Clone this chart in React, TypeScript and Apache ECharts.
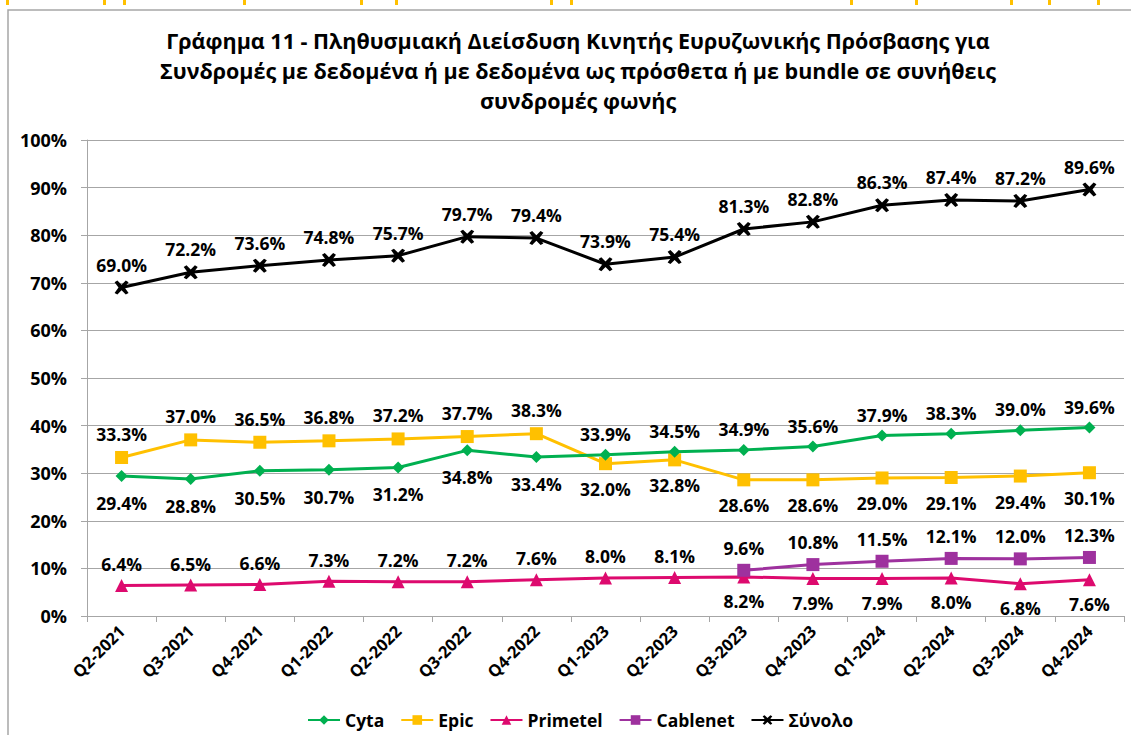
import React, { useEffect, useRef } from "react";
import * as echarts from "echarts";

const categories = [
  "Q2-2021", "Q3-2021", "Q4-2021", "Q1-2022", "Q2-2022", "Q3-2022", "Q4-2022",
  "Q1-2023", "Q2-2023", "Q3-2023", "Q4-2023", "Q1-2024", "Q2-2024", "Q3-2024", "Q4-2024",
];
const cyta = [29.4, 28.8, 30.5, 30.7, 31.2, 34.8, 33.4, 33.9, 34.5, 34.9, 35.6, 37.9, 38.3, 39.0, 39.6];
const epic = [33.3, 37.0, 36.5, 36.8, 37.2, 37.7, 38.3, 32.0, 32.8, 28.6, 28.6, 29.0, 29.1, 29.4, 30.1];
const primetel = [6.4, 6.5, 6.6, 7.3, 7.2, 7.2, 7.6, 8.0, 8.1, 8.2, 7.9, 7.9, 8.0, 6.8, 7.6];
const cablenet: (number | null)[] = [null, null, null, null, null, null, null, null, null, 9.6, 10.8, 11.5, 12.1, 12.0, 12.3];
const total = [69.0, 72.2, 73.6, 74.8, 75.7, 79.7, 79.4, 73.9, 75.4, 81.3, 82.8, 86.3, 87.4, 87.2, 89.6];
const yTicks = [0, 10, 20, 30, 40, 50, 60, 70, 80, 90, 100];

const titleText =
  "Γράφημα 11 - Πληθυσμιακή Διείσδυση Κινητής Ευρυζωνικής Πρόσβασης για\nΣυνδρομές με δεδομένα ή με δεδομένα ως πρόσθετα ή με bundle σε συνήθεις\nσυνδρομές φωνής";

const FONT = "'Open Sans', 'Noto Sans', sans-serif";
const xMarkPath =
  "path://M0,1.2 L2,0 L5,3 L8,0 L10,1.2 L7.2,5 L10,8.8 L8,10 L5,7 L2,10 L0,8.8 L2.8,5 Z";

const yellowMarks = [6, 103, 123, 243, 360, 395, 550, 570, 850, 915, 1010, 1048, 1097];

export default function App() {
  const ref = useRef<HTMLDivElement>(null);
  useEffect(() => {
    if (!ref.current) return;
    const chart = echarts.init(ref.current, undefined, { renderer: "svg" });
    const lbl = {
      show: true,
      fontFamily: FONT,
      fontWeight: "bold" as const,
      fontSize: 17.5,
      color: "#000",
      formatter: (p: any) => (p.value == null ? "" : Number(p.value).toFixed(1) + "%"),
    };
    const withPos = (arr: (number | null)[], below: (i: number) => boolean, dUp: number, dDown: number) =>
      arr.map((v, i) =>
        v == null
          ? null
          : {
              value: v,
              label: below(i)
                ? { position: "bottom", distance: dDown }
                : { position: "top", distance: dUp },
            }
      );
    chart.setOption({
      animation: false,
      backgroundColor: "#fff",
      title: {
        text: titleText,
        left: 578,
        top: 25,
        padding: 0,
        textAlign: "center",
        textStyle: {
          fontFamily: FONT,
          fontWeight: "bold",
          fontSize: 21.5,
          lineHeight: 30,
          color: "#000",
        },
      },
      graphic: [
        {
          type: "rect",
          shape: { x: 8, y: 10, width: 1140, height: 740 },
          style: { fill: "none", stroke: "#A6A6A6", lineWidth: 1.5 },
          silent: true,
          z: -1,
        },
        ...yellowMarks.map((x) => ({
          type: "rect",
          shape: { x, y: 0, width: 3, height: 5 },
          style: { fill: "#FFC000" },
          silent: true,
        })),
      ],
      legend: {
        left: 302,
        top: 706,
        itemGap: 16,
        itemWidth: 32,
        itemHeight: 12,
        textStyle: { fontFamily: FONT, fontWeight: "bold", fontSize: 17.5, color: "#000" },
        data: ["Cyta", "Epic", "Primetel", "Cablenet", "Σύνολο"],
      },
      grid: { left: 87, right: 7, top: 140, bottom: 119, containLabel: false },
      xAxis: {
        type: "category",
        data: categories,
        boundaryGap: true,
        axisLine: { lineStyle: { color: "#A6A6A6", width: 1 } },
        axisTick: { show: true, length: 6, lineStyle: { color: "#A6A6A6" } },
        axisLabel: {
          rotate: 45,
          interval: 0,
          margin: 12,
          fontFamily: FONT,
          fontWeight: "bold",
          fontSize: 16.5,
          color: "#000",
        },
      },
      yAxis: {
        type: "value",
        min: yTicks[0],
        max: yTicks[yTicks.length - 1],
        interval: 10,
        axisLine: { show: true, lineStyle: { color: "#A6A6A6" } },
        axisTick: { show: true, length: 6, lineStyle: { color: "#A6A6A6" } },
        splitLine: { lineStyle: { color: "#A6A6A6", width: 1 } },
        axisLabel: {
          margin: 20,
          formatter: "{value}%",
          fontFamily: FONT,
          fontWeight: "bold",
          fontSize: 18,
          color: "#000",
        },
      },
      series: [
        {
          name: "Cyta",
          type: "line",
          data: withPos(cyta, (i) => i < 7, 6, 12),
          color: "#00B050",
          lineStyle: { width: 3, color: "#00B050" },
          symbol: "diamond",
          symbolSize: 12,
          itemStyle: { color: "#00B050" },
          label: lbl,
          z: 3,
        },
        {
          name: "Epic",
          type: "line",
          data: withPos(epic, (i) => i >= 7, 8, 10),
          color: "#FFC000",
          lineStyle: { width: 3, color: "#FFC000" },
          symbol: "rect",
          symbolSize: 13,
          itemStyle: { color: "#FFC000" },
          label: lbl,
          z: 2,
        },
        {
          name: "Primetel",
          type: "line",
          data: withPos(primetel, (i) => i >= 9, 6, 9),
          color: "#DD0A6E",
          lineStyle: { width: 3, color: "#DD0A6E" },
          symbol: "triangle",
          symbolSize: 13,
          itemStyle: { color: "#DD0A6E" },
          label: lbl,
          z: 2,
        },
        {
          name: "Cablenet",
          type: "line",
          data: withPos(cablenet, () => false, 7, 7),
          color: "#9E319E",
          lineStyle: { width: 3, color: "#9E319E" },
          symbol: "rect",
          symbolSize: 13,
          itemStyle: { color: "#9E319E" },
          label: lbl,
          z: 3,
        },
        {
          name: "Σύνολο",
          type: "line",
          data: withPos(total, () => false, 7, 7),
          color: "#000",
          lineStyle: { width: 3, color: "#000" },
          symbol: xMarkPath,
          symbolSize: 14,
          itemStyle: { color: "#000" },
          label: lbl,
          z: 3,
        },
      ],
    });
    return () => chart.dispose();
  }, []);
  return (
    <div
      ref={ref}
      style={{ position: "absolute", left: 0, top: 0, width: 1131, height: 735 }}
    />
  );
}
